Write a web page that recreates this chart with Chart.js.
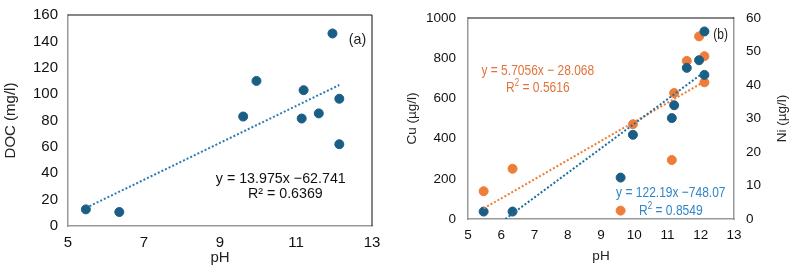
<!DOCTYPE html>
<html>
<head>
<meta charset="utf-8">
<script src="https://cdn.jsdelivr.net/npm/chart.js@4"></script>
<style>
  body { margin: 0; background: #fff; }
  #wrap { position: relative; width: 792px; height: 273px; }
  .box { position: absolute; top: 0; height: 273px; }
</style>
</head>
<body>
<div id="wrap">
  <div class="box" style="left:0;width:400px"><canvas id="chartA"></canvas></div>
  <div class="box" style="left:400px;width:392px"><canvas id="chartB"></canvas></div>
</div>
<script>
// chart (a) data
const phA = [5.47, 6.35, 9.61, 9.96, 11.15, 11.2, 11.6, 11.96, 12.14, 12.14];
const doc = [12.6, 10.6, 83, 110, 81.5, 103, 85.4, 146, 96.5, 62];

// chart (b) data
const phCu = [5.47, 6.34, 9.59, 9.96, 11.13, 11.2, 11.58, 11.95, 12.11, 12.11];
const cu = [37, 37, 206, 419, 502, 566, 752, 790, 933, 717];
const phNi = [5.47, 6.34, 9.59, 9.96, 11.13, 11.2, 11.58, 11.95, 12.11, 12.11];
const ni = [8.3, 15.0, 2.5, 28.3, 17.6, 37.6, 47.2, 54.5, 48.6, 40.8];

// trendlines (slope, intercept) from the chart labels
const fitA = [13.975, -62.741];
const fitCu = [122.19, -748.07];
const fitNi = [5.7056, -28.068];

const dotBlue = "#1b5e85";
const dotOrange = "#ee7d3a";
const textBlue = "#2f86c8";
const textOrange = "#e2733a";
const font = "'Liberation Sans', Arial, sans-serif";

Chart.defaults.color = "#222";
Chart.defaults.font.family = font;

function pts(xs, ys) {
  return xs.map((x, i) => ({ x: x, y: ys[i] }));
}

function fitLine(fit, x0, x1) {
  return [
    { x: x0, y: fit[0] * x0 + fit[1] },
    { x: x1, y: fit[0] * x1 + fit[1] },
  ];
}

// top / right frame lines + text notes (sx squeezes text horizontally)
function framePlugin(rightColor, notes, fs, sx, sideTitle) {
  return {
    id: "frame",
    afterDraw(chart) {
      const { ctx, chartArea: a } = chart;
      ctx.save();
      ctx.lineWidth = 1.2;
      ctx.strokeStyle = "#111";
      ctx.beginPath();
      ctx.moveTo(a.left, a.top);
      ctx.lineTo(a.right, a.top);
      ctx.stroke();
      if (rightColor) {
        ctx.strokeStyle = rightColor;
        ctx.beginPath();
        ctx.moveTo(a.right, a.top);
        ctx.lineTo(a.right, a.bottom);
        ctx.stroke();
      }
      ctx.textBaseline = "middle";
      notes.forEach((n) => {
        const px = chart.scales.x.getPixelForValue(n.x);
        const py = chart.scales[n.axis || "y"].getPixelForValue(n.y);
        ctx.save();
        ctx.translate(px, py);
        ctx.scale(sx, 1);
        ctx.fillStyle = n.color;
        ctx.font = fs + "px " + font;
        if (n.sup) {
          // R² with raised 2
          const w1 = ctx.measureText(n.text).width;
          ctx.font = "10px " + font;
          const ws = ctx.measureText("2").width;
          ctx.font = fs + "px " + font;
          const w2 = ctx.measureText(n.rest).width;
          const x0 = -(w1 + ws + w2) / 2;
          ctx.textAlign = "left";
          ctx.fillText(n.text, x0, 0);
          ctx.font = "10px " + font;
          ctx.fillText("2", x0 + w1, -5);
          ctx.font = fs + "px " + font;
          ctx.fillText(n.rest, x0 + w1 + ws, 0);
        } else {
          ctx.textAlign = "center";
          ctx.fillText(n.text, 0, 0);
        }
        ctx.restore();
      });
      if (sideTitle) {
        // right axis title, reading bottom to top
        ctx.fillStyle = "#222";
        ctx.textAlign = "center";
        ctx.font = sideTitle.size + "px " + font;
        ctx.translate(chart.width - 10, (a.top + a.bottom) / 2);
        ctx.rotate(-Math.PI / 2);
        ctx.fillText(sideTitle.text, 0, 0);
      }
      ctx.restore();
    },
  };
}

function fitAxis(w) {
  return function (axis) { axis.width = w; };
}
function fitHeight(h) {
  return function (axis) { axis.height = h; };
}

const fontA = { size: 15 };
const fontB = { size: 13.5 };

new Chart(document.getElementById("chartA"), {
  type: "scatter",
  data: {
    datasets: [
      {
        data: pts(phA, doc),
        backgroundColor: dotBlue,
        borderColor: dotBlue,
        pointRadius: 4.5,
      },
      {
        type: "line",
        data: fitLine(fitA, phA[0], phA[8]),
        borderColor: "#2a7bb0",
        borderWidth: 2,
        borderDash: [2, 2],
        pointRadius: 0,
        fill: false,
      },
    ],
  },
  options: {
    responsive: true,
    maintainAspectRatio: false,
    animation: false,
    layout: { padding: { top: 10, right: 28, left: 0, bottom: 0 } },
    plugins: { legend: { display: false }, tooltip: { enabled: false } },
    scales: {
      x: {
        type: "linear",
        min: 5,
        max: 13,
        ticks: { stepSize: 2, font: fontA, color: "#111", padding: 4 },
        grid: { display: false, drawTicks: true, tickLength: 4, color: "#aaa" },
        border: { color: "#999", width: 1.5 },
        title: { display: true, text: "pH", font: fontA, color: "#222", padding: { top: 0, bottom: 6 } },
        afterFit: fitHeight(47),
      },
      y: {
        min: 0,
        max: 160,
        ticks: { stepSize: 20, font: fontA, color: "#111", padding: 6 },
        grid: { display: false, drawTicks: true, tickLength: 4, color: "#aaa" },
        border: { color: "#999", width: 1.5 },
        title: { display: true, text: "DOC (mg/l)", font: fontA, color: "#222", padding: 2 },
        afterFit: fitAxis(68),
      },
    },
  },
  plugins: [
    framePlugin("#333", [
      { text: "(a)", x: 12.62, y: 141, color: "#222" },
      { text: "y = 13.975x \u221262.741", x: 10.6, y: 36, color: "#111" },
      { text: "R\u00b2 = 0.6369", x: 10.72, y: 24.5, color: "#111" },
    ], 15, 0.95),
  ],
});

new Chart(document.getElementById("chartB"), {
  type: "scatter",
  data: {
    datasets: [
      {
        data: pts(phCu, cu),
        backgroundColor: dotBlue,
        borderColor: dotBlue,
        pointRadius: 4.5,
        yAxisID: "y",
        order: 1,
      },
      {
        data: pts(phNi, ni),
        backgroundColor: dotOrange,
        borderColor: dotOrange,
        pointRadius: 4.5,
        yAxisID: "y1",
        order: 2,
      },
      {
        type: "line",
        data: fitLine(fitCu, -fitCu[1] / fitCu[0], phCu[8]),
        borderColor: "#1f6f9e",
        borderWidth: 2,
        borderDash: [2, 2],
        pointRadius: 0,
        yAxisID: "y",
        order: 0,
      },
      {
        type: "line",
        data: fitLine(fitNi, phNi[0], phNi[8]),
        borderColor: "#f07b34",
        borderWidth: 2,
        borderDash: [2, 2],
        pointRadius: 0,
        yAxisID: "y1",
        order: 0,
      },
    ],
  },
  options: {
    responsive: true,
    maintainAspectRatio: false,
    animation: false,
    layout: { padding: { top: 18, right: 0, left: 0, bottom: 0 } },
    plugins: { legend: { display: false }, tooltip: { enabled: false } },
    scales: {
      x: {
        type: "linear",
        min: 5,
        max: 13,
        ticks: { stepSize: 1, font: fontB, color: "#111", padding: 4 },
        grid: { display: false, drawTicks: true, tickLength: 4, color: "#aaa" },
        border: { color: "#999", width: 1.5 },
        title: { display: true, text: "pH", font: fontB, color: "#222", padding: { top: 0, bottom: 9 } },
        afterFit: fitHeight(54),
      },
      y: {
        position: "left",
        min: 0,
        max: 1000,
        ticks: { stepSize: 200, font: fontB, color: "#111", padding: 8, callback: (v) => String(v) },
        grid: { display: false, drawTicks: true, tickLength: 4, color: "#aaa" },
        border: { color: "#999", width: 1.5 },
        title: { display: true, text: "Cu (\u00b5g/l)", font: fontB, color: "#222", padding: 4 },
        afterFit: fitAxis(68),
      },
      y1: {
        position: "right",
        min: 0,
        max: 60,
        ticks: { stepSize: 10, font: fontB, color: "#111", padding: 8 },
        grid: { display: false, drawTicks: true, tickLength: 4, color: "#aaa" },
        border: { color: "#999", width: 1.5 },
        title: { display: false },
        afterFit: fitAxis(58),
      },
    },
  },
  plugins: [
    framePlugin(null, [
      { text: "(b)", x: 12.6, y: 915, color: "#222" },
      { text: "y = 5.7056x \u2212 28.068", x: 7.1, y: 738, color: textOrange },
      { text: "R", sup: true, rest: " = 0.5616", x: 7.1, y: 650, color: textOrange },
      { text: "y = 122.19x \u2212748.07", x: 11.1, y: 128, color: textBlue },
      { text: "R", sup: true, rest: " = 0.8549", x: 11.1, y: 40, color: textBlue },
    ], 15, 0.8, { text: "Ni (\u00b5g/l)", size: 13.5 }),
  ],
});
</script>
</body>
</html>
